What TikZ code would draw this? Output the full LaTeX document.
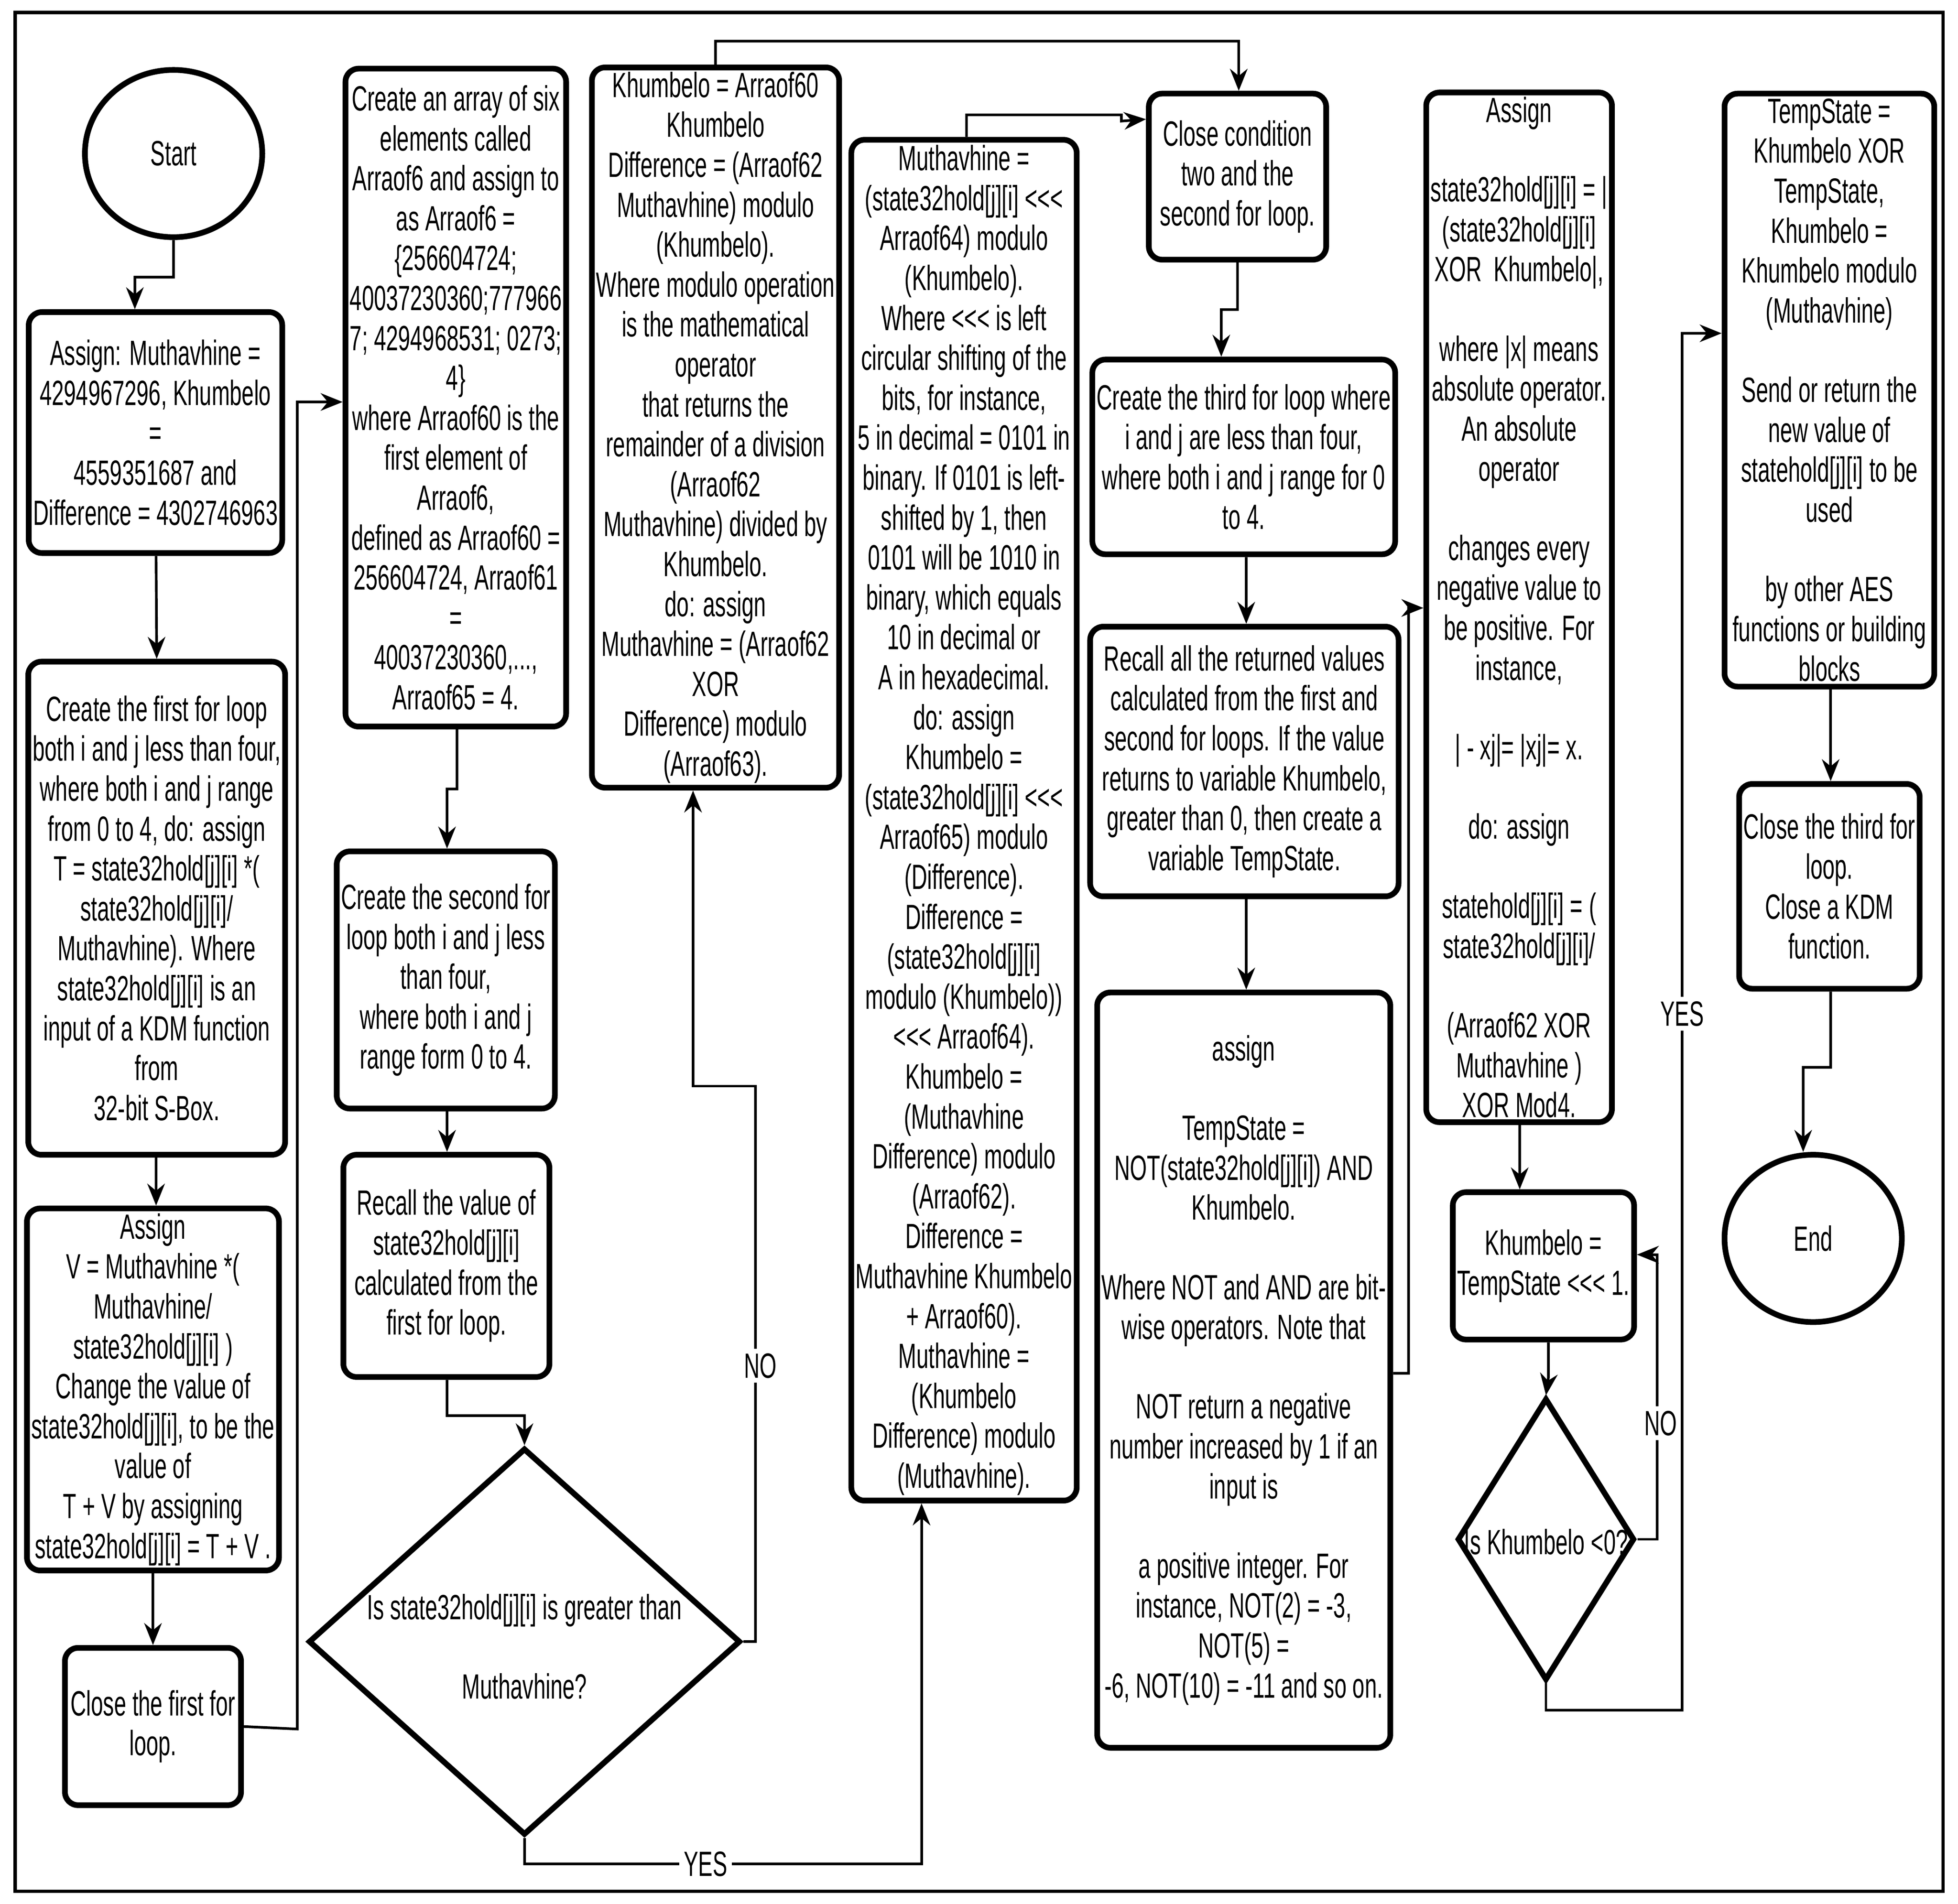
\documentclass[tikz,border=0pt]{standalone}
\usepackage{fontspec}
\setmainfont{Liberation Sans}[FakeStretch=0.62]
\usetikzlibrary{shapes.geometric,arrows.meta}
\begin{document}
\begin{tikzpicture}[
  font=\fontsize{8}{9.1}\selectfont,
  box/.style={draw,line width=1.3pt,rounded corners=3pt,align=center,inner sep=1pt},
  arr/.style={line width=0.6pt,-{Stealth[length=5pt,width=4pt]}},
  ln/.style={line width=0.6pt},
  lab/.style={fill=white,inner sep=1pt}]
\useasboundingbox (0,0) rectangle (15.68,-15.25);
\draw[line width=0.8pt] (0.12,-0.10) rectangle (15.56,-15.15);

\node[draw,ellipse,line width=1.3pt,minimum width=1.42cm,minimum height=1.34cm] (Start) at (1.39,-1.23) {Start};
\node[draw,ellipse,line width=1.3pt,minimum width=1.42cm,minimum height=1.34cm] (End) at (14.52,-9.92) {End};

\node[box,minimum width=1.95cm,minimum height=1.93cm] (A1) at (1.245,-3.465) {Assign: Muthavhine =\\4294967296, Khumbelo\\=\\4559351687 and\\Difference = 4302746963};
\node[box,minimum width=1.97cm,minimum height=3.95cm] (A2) at (1.255,-7.275) {Create the first for loop\\both i and j less than four,\\where both i and j range\\from 0 to 4, do: assign\\T = state32hold[j][i] *(\\state32hold[j][i]/\\Muthavhine). Where\\state32hold[j][i] is an\\input of a KDM function\\from\\32-bit S-Box.};
\node[box,minimum width=1.97cm,minimum height=2.90cm] (A3) at (1.225,-11.13) {Assign\\V = Muthavhine *(\\Muthavhine/\\state32hold[j][i] )\\Change the value of\\state32hold[j][i], to be the\\value of\\T + V by assigning\\state32hold[j][i] = T + V .};
\node[box,minimum width=1.41cm,minimum height=1.26cm] (A4) at (1.225,-13.83) {Close the first for\\loop.};

\node[box,minimum width=1.70cm,minimum height=5.27cm] (B1) at (3.65,-3.185) {Create an array of six\\elements called\\Arraof6 and assign to\\as Arraof6 =\\\{256604724;\\40037230360;777966\\7; 4294968531; 0273;\\4\}\\where Arraof60 is the\\first element of\\Arraof6,\\defined as Arraof60 =\\256604724, Arraof61\\=\\40037230360,...,\\Arraof65 = 4.};
\node[box,minimum width=1.70cm,minimum height=2.06cm] (B2) at (3.57,-7.85) {Create the second for\\loop both i and j less\\than four,\\where both i and j\\range form 0 to 4.};
\node[box,minimum width=1.65cm,minimum height=1.78cm] (B3) at (3.575,-10.14) {Recall the value of\\state32hold[j][i]\\calculated from the\\first for loop.};
\node[draw,diamond,line width=1.3pt,minimum width=3.46cm,minimum height=3.10cm,inner sep=0pt] (B4) at (4.20,-13.15) {};
\node[align=center] (B4t) at (4.20,-13.19) {Is state32hold[j][i] is greater than\\[9pt]Muthavhine?};

\node[box,minimum width=1.98cm,minimum height=5.75cm] (C1) at (5.73,-3.425) {Khumbelo = Arraof60\\Khumbelo\\Difference = (Arraof62\\Muthavhine) modulo\\(Khumbelo).\\Where modulo operation\\is the mathematical\\operator\\that returns the\\remainder of a division\\(Arraof62\\Muthavhine) divided by\\Khumbelo.\\do: assign\\Muthavhine = (Arraof62\\XOR\\Difference) modulo\\(Arraof63).};

\node[box,minimum width=1.76cm,minimum height=10.90cm] (D1) at (7.72,-6.57) {Muthavhine =\\(state32hold[j][i] <{}<{}<\\Arraof64) modulo\\(Khumbelo).\\Where <{}<{}< is left\\circular shifting of the\\bits, for instance,\\5 in decimal = 0101 in\\binary. If 0101 is left-\\shifted by 1, then\\0101 will be 1010 in\\binary, which equals\\10 in decimal or\\A in hexadecimal.\\do: assign\\Khumbelo =\\(state32hold[j][i] <{}<{}<\\Arraof65) modulo\\(Difference).\\Difference =\\(state32hold[j][i]\\modulo (Khumbelo))\\<{}<{}< Arraof64).\\Khumbelo =\\(Muthavhine\\Difference) modulo\\(Arraof62).\\Difference =\\Muthavhine Khumbelo\\+ Arraof60).\\Muthavhine =\\(Khumbelo\\Difference) modulo\\(Muthavhine).};

\node[box,minimum width=1.42cm,minimum height=1.33cm] (E1) at (9.91,-1.415) {Close condition\\two and the\\second for loop.};
\node[box,minimum width=2.34cm,minimum height=1.56cm] (E2) at (9.96,-3.66) {Create the third for loop where\\i and j are less than four,\\where both i and j range for 0\\to 4.};
\node[box,minimum width=2.47cm,minimum height=2.16cm] (E3) at (9.965,-6.10) {Recall all the returned values\\calculated from the first and\\second for loops. If the value\\returns to variable Khumbelo,\\greater than 0, then create a\\variable TempState.};
\node[box,minimum width=2.28cm,minimum height=6.05cm] (E4) at (9.96,-10.975) {assign\\[9pt]TempState =\\NOT(state32hold[j][i]) AND\\Khumbelo.\\[9pt]Where NOT and AND are bit-\\wise operators. Note that\\[9pt]NOT return a negative\\number increased by 1 if an\\input is\\[9pt]a positive integer. For\\instance, NOT(2) = -3,\\NOT(5) =\\-6, NOT(10) = -11 and so on.};

\node[box,minimum width=1.41cm,minimum height=8.23cm] (F1) at (12.165,-4.865) {Assign\\[9pt]state32hold[j][i] = |\\(state32hold[j][i]\\XOR\ \ Khumbelo|,\\[9pt]where |x| means\\absolute operator.\\An absolute\\operator\\[9pt]changes every\\negative value to\\be positive. For\\instance,\\[9pt]| - xj|= |xj|= x.\\[9pt]do: assign\\[9pt]statehold[j][i] = (\\state32hold[j][i]/\\[9pt](Arraof62 XOR\\Muthavhine )\\XOR Mod4.};
\node[box,minimum width=1.42cm,minimum height=1.18cm] (F2) at (12.36,-10.14) {Khumbelo =\\TempState <{}<{}< 1.};
\node[draw,diamond,line width=1.3pt,minimum width=1.42cm,minimum height=2.26cm,inner sep=0pt] (F3) at (12.38,-12.33) {};
\node (F3t) at (12.38,-12.35) {Is Khumbelo <0?};

\node[box,minimum width=1.68cm,minimum height=4.75cm] (G1) at (14.65,-3.125) {TempState =\\Khumbelo XOR\\TempState,\\Khumbelo =\\Khumbelo modulo\\(Muthavhine)\\[9pt]Send or return the\\new value of\\statehold[j][i] to be\\used\\[9pt]by other AES\\functions or building\\blocks};
\node[box,minimum width=1.42cm,minimum height=1.64cm] (G2) at (14.65,-7.10) {Close the third for\\loop.\\Close a KDM\\function.};

% connectors
\draw[arr] (Start.south) -- (1.39,-2.22) -- (1.08,-2.22) -- ([xshift=-0.165cm]A1.north);
\draw[arr] ([xshift=0.005cm]A1.south) -- ([xshift=0cm]A2.north);
\draw[arr] ([xshift=-0.005cm]A2.south) -- (1.25,-9.45) -- ([xshift=0.025cm]A3.north);
\draw[arr] (A3.south) -- (A4.north);
\draw[arr] (A4.east) -- (2.38,-13.85) -- (2.38,-3.22) -- ([yshift=-0.035cm]B1.west);
\draw[arr] ([xshift=0.01cm]B1.south) -- (3.66,-6.32) -- (3.58,-6.32) -- ([xshift=0.01cm]B2.north);
\draw[arr] ([xshift=0.01cm]B2.south) -- ([xshift=0.005cm]B3.north);
\draw[arr] ([xshift=0.005cm]B3.south) -- (3.58,-11.34) -- (4.20,-11.34) -- (B4.north);
\draw[arr] (B4.east) -- (6.05,-13.15) -- (6.05,-8.70) -- (5.55,-8.70) -- ([xshift=-0.18cm]C1.south);
\node[lab] at (6.09,-10.94) {NO};
\draw[arr] (B4.south) -- (4.20,-14.93) -- (7.38,-14.93) -- ([xshift=-0.34cm]D1.south);
\node[lab] at (5.65,-14.93) {YES};
\draw[arr] (C1.north) -- (5.73,-0.33) -- (9.92,-0.33) -- ([xshift=0.01cm]E1.north);
\draw[arr] ([xshift=0.02cm]D1.north) -- (7.74,-0.92) -- (8.98,-0.92) -- (8.98,-0.97) -- ([yshift=0.46cm]E1.west);
\draw[arr] (E1.south) -- (9.91,-2.48) -- (9.78,-2.48) -- ([xshift=-0.18cm]E2.north);
\draw[arr] ([xshift=0.02cm]E2.south) -- ([xshift=0.015cm]E3.north);
\draw[arr] ([xshift=0.015cm]E3.south) -- ([xshift=0.02cm]E4.north);
\draw[arr] ([yshift=-0.025cm]E4.east) -- (11.28,-11.0) -- (11.28,-4.87) -- ([yshift=-0.005cm]F1.west);
\draw[arr] ([xshift=0.005cm]F1.south) -- ([xshift=-0.19cm]F2.north);
\draw[arr] ([xshift=0.04cm]F2.south) -- (12.40,-11.0) -- (12.40,-11.03) -- (F3.north);
\draw[arr] (F3.east) -- (13.27,-12.33) -- (13.27,-10.05) -- ([yshift=0.09cm]F2.east);
\node[lab] at (13.30,-11.40) {NO};
\draw[arr] (F3.south) -- (12.38,-13.70) -- (13.47,-13.70) -- (13.47,-2.67) -- ([yshift=0.455cm]G1.west);
\node[lab] at (13.47,-8.12) {YES};
\draw[arr] ([xshift=0.01cm]G1.south) -- ([xshift=0.01cm]G2.north);
\draw[arr] ([xshift=0.01cm]G2.south) -- (14.66,-8.55) -- (14.44,-8.55) -- ([xshift=-0.08cm]End.north);
\end{tikzpicture}
\end{document}
